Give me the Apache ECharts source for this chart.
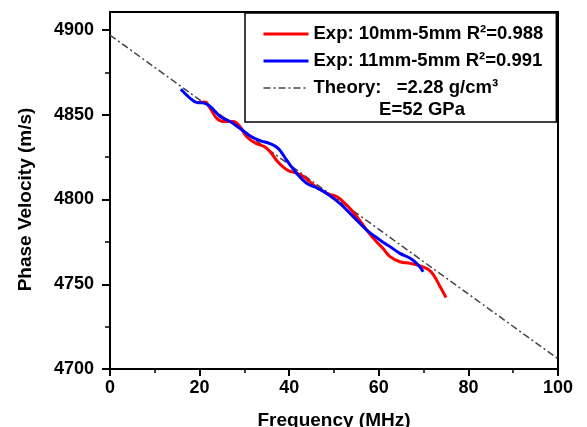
<!DOCTYPE html>
<html>
<head>
<meta charset="utf-8">
<script src="https://cdn.jsdelivr.net/npm/echarts@6/dist/echarts.min.js"></script>
<style>
html,body{margin:0;padding:0;background:#fff;}
#chart{width:587px;height:427px;}
</style>
</head>
<body>
<div id="chart"></div>
<script>
// 10mm-5mm (red)
var freqRed = [19.5, 21.2, 22.3, 23.8, 25.3, 27.5, 29, 30.5, 32.7, 34.6, 36.1, 37.2, 38.5, 39.8, 41.3, 43.2, 45.4, 48.4, 50.6, 52.8, 55.1, 57.3, 59.5, 61, 62.5, 64.7, 67, 69.2, 71, 72.2, 73.7, 75];
var velRed = [4857, 4857.5, 4854, 4848, 4846, 4846, 4843, 4837, 4833, 4831, 4827, 4823, 4819.5, 4817, 4815.8, 4813.5, 4808.6, 4803.6, 4801.7, 4796.8, 4789.9, 4782, 4775, 4771, 4766.3, 4763.3, 4762.3, 4760.8, 4758.8, 4755.5, 4748.5, 4742.2];
// 11mm-5mm (blue)
var freqBlue = [15.8, 17.9, 19.3, 20.8, 22.3, 24.6, 26.8, 29, 31.3, 33.5, 35.7, 37.6, 39.4, 41.7, 43.9, 46.1, 48.4, 51.3, 54.3, 57.3, 60.3, 62.5, 64.7, 67, 68.8, 69.9];
var velBlue = [4865, 4859.7, 4857.3, 4857, 4855, 4849, 4846, 4842, 4837.5, 4834.7, 4833, 4830, 4823.3, 4815.4, 4809.5, 4807, 4803.6, 4797.7, 4789.9, 4782, 4776, 4772.2, 4768.2, 4765.3, 4761.4, 4757.4];
// theory line
var freqTheory = [0, 100];
var velTheory = [4897, 4706];

var names = ['Exp: 10mm-5mm R²=0.988', 'Exp: 11mm-5mm R²=0.991', 'Theory:   =2.28 g/cm³'];

function pairs(xs, ys){
	var out = [];
	for (var i = 0; i < xs.length; i++) out.push([xs[i], ys[i]]);
	return out;
}

var font = '"Liberation Sans", Arial, sans-serif';
var chart = echarts.init(document.getElementById('chart'));

var option = {
	animation: false,
	backgroundColor: '#fff',
	grid: [
		{left: 110, right: 29, top: 12, bottom: 58, outerBoundsMode: 'none'},   // frame
		{left: 110, right: 29, top: 30, bottom: 58, outerBoundsMode: 'none'}    // data
	],
	legend: {
		orient: 'vertical',
		left: 245,
		top: 13,
		padding: [11, 13, 24, 17],
		itemWidth: 45,
		itemHeight: 14,
		itemGap: 7,
		borderColor: '#000',
		borderWidth: 1.5,
		backgroundColor: '#fff',
		itemStyle: {opacity: 0},
		textStyle: {fontFamily: font, fontWeight: 'bold', fontSize: 18.5, color: '#000', lineHeight: 20},
		data: [
			{name: names[0], lineStyle: {width: 3}},
			{name: names[1], lineStyle: {width: 3}},
			{name: names[2], lineStyle: {width: 1.5}}
		]
	},
	graphic: [{
		type: 'text',
		z: 100,
		style: {x: 422, y: 110, text: 'E=52 GPa', align: 'center', verticalAlign: 'middle',
			font: 'bold 18.5px ' + font, fill: '#000'}
	}],
	xAxis: [
		{
			gridIndex: 0, type: 'value', position: 'top', min: 0, max: 100,
			axisLine: {onZero: false, lineStyle: {color: '#000', width: 2}},
			axisTick: {show: false}, axisLabel: {show: false}, splitLine: {show: false}
		},
		{
			gridIndex: 1, type: 'value', position: 'bottom', min: 0, max: 100, interval: 20,
			name: 'Frequency (MHz)', nameLocation: 'middle', nameGap: 42,
			nameTextStyle: {fontFamily: font, fontWeight: 'bold', fontSize: 19, color: '#000'},
			axisLine: {onZero: false, lineStyle: {color: '#000', width: 2}},
			axisTick: {inside: false, length: 7, lineStyle: {width: 2, color: '#000'}},
			minorTick: {show: true, splitNumber: 2, length: 4, lineStyle: {width: 1.5, color: '#000'}},
			axisLabel: {fontFamily: font, fontWeight: 'bold', fontSize: 18, color: '#000', margin: 10},
			splitLine: {show: false}
		}
	],
	yAxis: [
		{
			gridIndex: 0, type: 'value', position: 'left', min: 0, max: 1,
			axisLine: {show: true, onZero: false, lineStyle: {color: '#000', width: 2}},
			axisTick: {show: false}, axisLabel: {show: false}, splitLine: {show: false}
		},
		{
			gridIndex: 0, type: 'value', position: 'right', min: 0, max: 1,
			axisLine: {show: true, onZero: false, lineStyle: {color: '#000', width: 2}},
			axisTick: {show: false}, axisLabel: {show: false}, splitLine: {show: false}
		},
		{
			gridIndex: 1, type: 'value', position: 'left', min: 4700, max: 4900, interval: 50,
			name: 'Phase Velocity (m/s)', nameLocation: 'middle', nameGap: 75, nameRotate: 90,
			nameTextStyle: {fontFamily: font, fontWeight: 'bold', fontSize: 19, color: '#000'},
			axisLine: {show: false, onZero: false},
			axisTick: {show: true, inside: false, length: 8, lineStyle: {width: 2, color: '#000'}},
			minorTick: {show: true, splitNumber: 2, length: 5, lineStyle: {width: 1.5, color: '#000'}},
			axisLabel: {fontFamily: font, fontWeight: 'bold', fontSize: 18, color: '#000', margin: 16,
				formatter: function(v){ return String(v); }},
			splitLine: {show: false}
		}
	],
	series: [
		{
			name: names[0], type: 'line', xAxisIndex: 1, yAxisIndex: 2,
			data: pairs(freqRed, velRed), smooth: 0.4, symbol: 'none',
			lineStyle: {color: '#ff0000', width: 3}, itemStyle: {color: '#ff0000'}, z: 3
		},
		{
			name: names[1], type: 'line', xAxisIndex: 1, yAxisIndex: 2,
			data: pairs(freqBlue, velBlue), smooth: 0.4, symbol: 'none',
			lineStyle: {color: '#0000ff', width: 3}, itemStyle: {color: '#0000ff'}, z: 4
		},
		{
			name: names[2], type: 'line', xAxisIndex: 1, yAxisIndex: 2,
			data: pairs(freqTheory, velTheory), symbol: 'none',
			lineStyle: {color: '#444', width: 1.5, type: [7, 3, 2, 3]}, itemStyle: {color: '#444'}, z: 2
		}
	]
};
chart.setOption(option);
</script>
</body>
</html>
